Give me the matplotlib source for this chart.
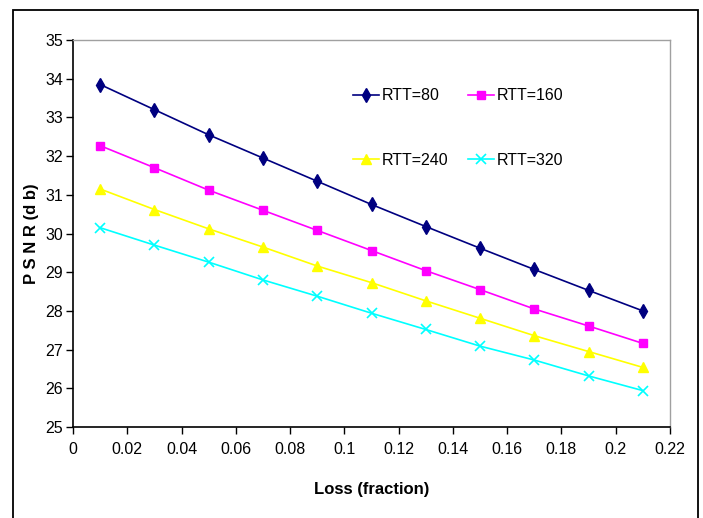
import matplotlib
matplotlib.use("Agg")
import matplotlib.pyplot as plt
import numpy as np

# loss fraction on x axis
loss = [0.01, 0.03, 0.05, 0.07, 0.09, 0.11, 0.13, 0.15, 0.17, 0.19, 0.21]

psnr_rtt80 = [33.85, 33.2, 32.55, 31.95, 31.35, 30.75, 30.18, 29.62, 29.07, 28.53, 28.0]
psnr_rtt160 = [32.27, 31.7, 31.12, 30.6, 30.08, 29.56, 29.04, 28.55, 28.05, 27.61, 27.16]
psnr_rtt240 = [31.15, 30.62, 30.12, 29.65, 29.16, 28.73, 28.26, 27.81, 27.36, 26.95, 26.54]
psnr_rtt320 = [30.15, 29.7, 29.26, 28.8, 28.38, 27.94, 27.52, 27.09, 26.73, 26.32, 25.94]

labels = ["RTT=80", "RTT=160", "RTT=240", "RTT=320"]
xticks = [0, 0.02, 0.04, 0.06, 0.08, 0.1, 0.12, 0.14, 0.16, 0.18, 0.2, 0.22]
xticklabels = ["0", "0.02", "0.04", "0.06", "0.08", "0.1", "0.12", "0.14",
               "0.16", "0.18", "0.2", "0.22"]
yticks = [25, 26, 27, 28, 29, 30, 31, 32, 33, 34, 35]

font = ["Liberation Sans", "DejaVu Sans"]

fig = plt.figure(figsize=(7.03, 5.18), dpi=100)
ax = fig.add_axes([73 / 703, 91 / 518, 597 / 703, 387 / 518])

# outer chart frame
frame = plt.Rectangle((13 / 703, -0.1), 685 / 703, 1.1 - 10 / 518,
                      transform=fig.transFigure, fill=False,
                      edgecolor="black", linewidth=1.3)
fig.patches.append(frame)

l1, = ax.plot(loss, psnr_rtt80, color="#000080", marker="d", markersize=7,
              linewidth=1.2, label=labels[0])
l2, = ax.plot(loss, psnr_rtt160, color="#FF00FF", marker="s", markersize=6,
              linewidth=1.2, label=labels[1])
l3, = ax.plot(loss, psnr_rtt240, color="#FFFF00", marker="^", markersize=7,
              linewidth=1.2, label=labels[2])
l4, = ax.plot(loss, psnr_rtt320, color="#00FFFF", marker="x", markersize=7,
              markeredgewidth=1.2, linewidth=1.2, label=labels[3])

ax.set_xlim(0, 0.22)
ax.set_ylim(25, 35)
ax.set_xticks(xticks)
ax.set_xticklabels(xticklabels, family=font, fontsize=11.5)
ax.set_yticks(yticks)
ax.set_yticklabels([str(v) for v in yticks], family=font, fontsize=11.5)
ax.tick_params(direction="out", length=5, width=1)
ax.tick_params(axis="x", pad=6)
ax.tick_params(axis="y", pad=2)

for side in ["top", "right"]:
    ax.spines[side].set_color("#a0a0a0")
    ax.spines[side].set_linewidth(1)
for side in ["left", "bottom"]:
    ax.spines[side].set_color("black")
    ax.spines[side].set_linewidth(1.2)

ax.set_xlabel("Loss (fraction)", family=font, fontsize=12,
              fontweight="bold", labelpad=18)
ax.set_ylabel("P S N R (d b)", family=font, fontsize=12, fontweight="bold")
ax.yaxis.set_label_coords(-0.057, 0.5)

# legend is filled column by column, so order handles to read row-wise
ax.legend([l1, l3, l2, l4], [labels[0], labels[2], labels[1], labels[3]],
          loc="upper left", bbox_to_anchor=(0.469, 0.875), ncol=2,
          frameon=False, prop={"family": font, "size": 11.5},
          handlelength=1.6, handletextpad=0.2, columnspacing=1.25,
          labelspacing=3.1, borderpad=0, borderaxespad=0)

plt.savefig("out.png", dpi=100)
